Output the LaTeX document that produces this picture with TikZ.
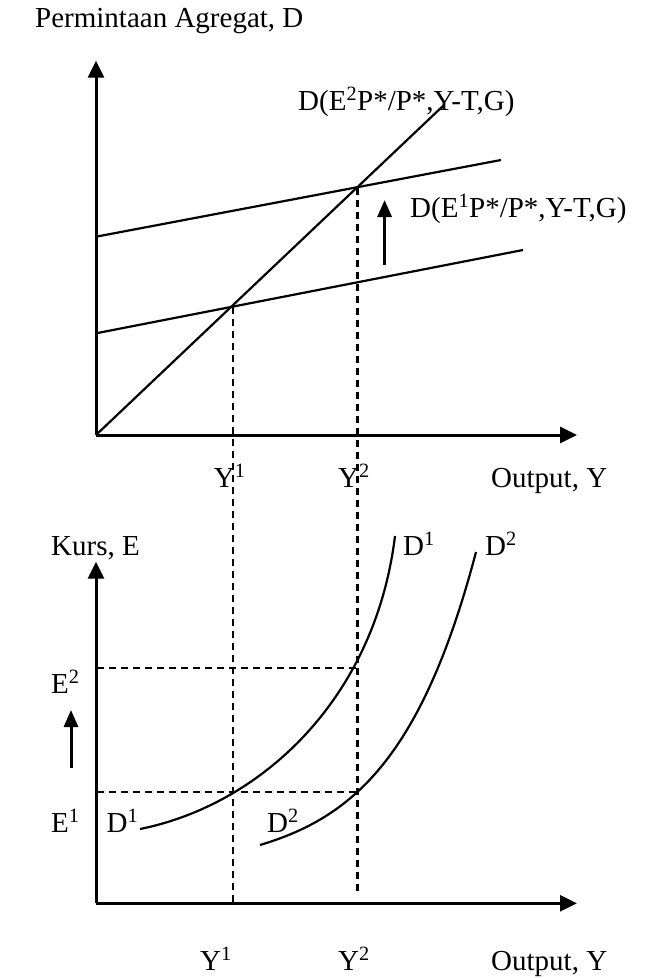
\documentclass[tikz,border=0pt]{standalone}
\usepackage{fontspec}
\setmainfont{Liberation Serif}
\usetikzlibrary{arrows.meta}
\newcommand\supr[1]{\textsuperscript{#1}}
\begin{document}
\begin{tikzpicture}[x=1pt,y=-1pt,
  lbl/.style={anchor=base west,inner sep=0pt,font=\fontsize{29}{34}\selectfont},
  axis/.style={line width=3pt,-{Triangle[width=16pt,length=17pt]}},
  curve/.style={line width=2.2pt},
  guide/.style={line width=2.1pt,dash pattern=on 7pt off 5pt},
  shiftarrow/.style={line width=3pt,-{Triangle[width=14pt,length=17pt]}}]
\useasboundingbox[fill=white] (0,0) rectangle (657,978);

% ---------- upper panel ----------
\coordinate (O1) at (96,435);
\coordinate (Y1top) at (96,60.7);
\coordinate (X1end) at (577,435);
\draw[axis] (O1) -- (Y1top);
\draw[axis] (O1) -- (X1end);

\coordinate (diagEnd) at (444,105);
\draw[curve] (O1) -- (diagEnd);

\coordinate (upL) at (96,236.7);
\coordinate (upR) at (501,160);
\draw[curve] (upL) -- (upR);
\coordinate (loL) at (96,333.3);
\coordinate (loR) at (523,250);
\draw[curve] (loL) -- (loR);

\coordinate (I1) at (232.7,306.7);
\coordinate (I2) at (357.5,188.3);

\coordinate (sA) at (384.6,265);
\coordinate (sB) at (384.6,200);
\draw[shiftarrow] (sA) -- (sB);

\node[lbl] (ttl) at (35,27) {Permintaan Agregat, D};
\node[lbl] (dE2) at (298,110) {D(E\supr{2}P*/P*,Y-T,G)};
\node[lbl] (dE1) at (410,217) {D(E\supr{1}P*/P*,Y-T,G)};
\node[lbl] (y1a) at (213.7,487) {Y\supr{1}};
\node[lbl] (y2a) at (338,487) {Y\supr{2}};
\node[lbl] (outa) at (491,487) {Output, Y};

% ---------- lower panel ----------
\coordinate (O2) at (96,903.3);
\coordinate (Y2top) at (96,561.7);
\coordinate (X2end) at (577,903.3);
\draw[axis] (O2) -- (Y2top);
\draw[axis] (O2) -- (X2end);

% guide lines
\coordinate (g1b) at (232.7,903.3);
\coordinate (g2b) at (357.5,892);
\draw[guide] (I1) -- (g1b);
\draw[guide] (I2) -- (g2b);
\coordinate (e2L) at (97,668);
\coordinate (e2R) at (357.5,668);
\coordinate (e1L) at (97,792.3);
\coordinate (e1R) at (357.5,792.3);
\draw[guide] (e2L) -- (e2R);
\draw[guide] (e1L) -- (e1R);

% demand curves
\coordinate (d1s) at (140,829);
\coordinate (d1e) at (395,536);
\draw[curve] (d1s) .. controls (260,805) and (375,700) .. (d1e);
\coordinate (d2s) at (260,845);
\coordinate (d2e) at (476,552);
\draw[curve] (d2s) .. controls (350,818) and (421,761) .. (d2e);

\coordinate (tA) at (71,768);
\coordinate (tB) at (71,710);
\draw[shiftarrow] (tA) -- (tB);

\node[lbl] (kurs) at (51,555) {Kurs, E};
\node[lbl] (D1t) at (403,555) {D\supr{1}};
\node[lbl] (D2t) at (485,555) {D\supr{2}};
\node[lbl] (E2) at (51,693) {E\supr{2}};
\node[lbl] (E1) at (51,832) {E\supr{1}};
\node[lbl] (D1b) at (106.5,832) {D\supr{1}};
\node[lbl] (D2b) at (267,832) {D\supr{2}};
\node[lbl] (y1b) at (200,970) {Y\supr{1}};
\node[lbl] (y2b) at (338,970) {Y\supr{2}};
\node[lbl] (outb) at (491,970) {Output, Y};
\end{tikzpicture}
\end{document}
